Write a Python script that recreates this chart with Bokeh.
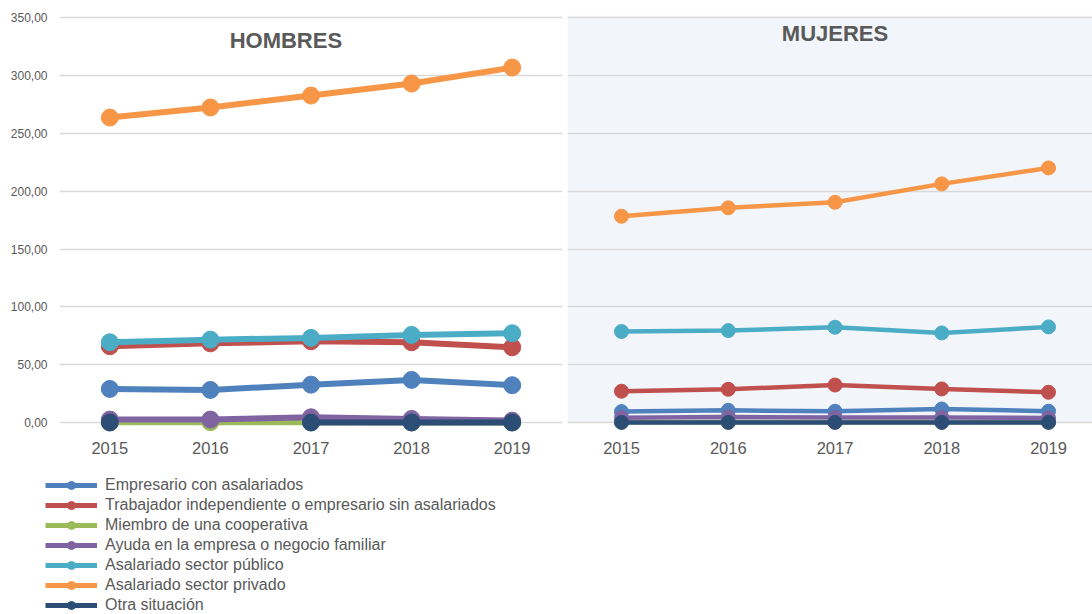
import numpy as np
from bokeh.plotting import figure
from bokeh.models import FixedTicker, Legend, LegendItem, Label, BoxAnnotation, Range1d
from bokeh.layouts import row, column
from bokeh.embed import file_html
from bokeh.resources import INLINE

nan = float("nan")

years = [2015, 2016, 2017, 2018, 2019]
year_labels = ["2015", "2016", "2017", "2018", "2019"]
y_ticks = [0, 50, 100, 150, 200, 250, 300, 350]
y_tick_labels = ["0,00", "50,00", "100,00", "150,00", "200,00", "250,00", "300,00", "350,00"]

series_names = [
    "Empresario con asalariados",
    "Trabajador independiente o empresario sin asalariados",
    "Miembro de una cooperativa",
    "Ayuda en la empresa o negocio familiar",
    "Asalariado sector público",
    "Asalariado sector privado",
    "Otra situación",
]
series_colors = ["#4f81bd", "#c0504d", "#9bbb59", "#8064a2", "#4bacc6", "#f79646", "#2c4d75"]

hombres_empresario = [29.1, 28.2, 32.8, 36.9, 32.3]
hombres_trabajador = [66.0, 68.5, 70.3, 69.4, 65.1]
hombres_cooperativa = [0.3, 0.4, 0.3, 0.2, 0.2]
hombres_ayuda = [2.6, 2.6, 4.6, 3.2, 1.7]
hombres_publico = [69.4, 71.7, 73.2, 75.8, 77.2]
hombres_privado = [263.6, 272.3, 282.6, 293.0, 306.8]
hombres_otra = [0.1, nan, 0.1, 0.1, 0.1]

mujeres_empresario = [9.5, 10.6, 9.8, 11.8, 9.8]
mujeres_trabajador = [27.1, 28.8, 32.5, 29.1, 26.2]
mujeres_cooperativa = [0.3, 0.3, 0.3, 0.3, 0.3]
mujeres_ayuda = [4.3, 4.8, 4.5, 4.5, 4.0]
mujeres_publico = [78.7, 79.5, 82.4, 77.5, 82.7]
mujeres_privado = [178.3, 185.6, 190.4, 206.3, 220.1]
mujeres_otra = [0.2, 0.2, 0.2, 0.2, 0.2]

hombres = [hombres_empresario, hombres_trabajador, hombres_cooperativa, hombres_ayuda,
           hombres_publico, hombres_privado, hombres_otra]
mujeres = [mujeres_empresario, mujeres_trabajador, mujeres_cooperativa, mujeres_ayuda,
           mujeres_publico, mujeres_privado, mujeres_otra]

FONT = "Liberation Sans"
TXT = "#595959"
GRID = "#d9d9d9"


def style(p, show_y):
    p.outline_line_color = None
    p.xgrid.visible = False
    p.ygrid.ticker = FixedTicker(ticks=y_ticks)
    p.ygrid.grid_line_color = GRID
    p.ygrid.grid_line_width = 1.5
    p.xaxis.ticker = FixedTicker(ticks=years)
    p.xaxis.major_label_overrides = {y: l for y, l in zip(years, year_labels)}
    p.xaxis.major_label_text_font = FONT
    p.xaxis.major_label_text_font_size = "16.5px"
    p.xaxis.major_label_text_color = TXT
    p.xaxis.major_label_standoff = 5
    for ax in [p.xaxis, p.yaxis]:
        ax.axis_line_color = None
        ax.major_tick_line_color = None
        ax.minor_tick_line_color = None
        ax.major_tick_out = 0
        ax.major_tick_in = 0
        ax.minor_tick_out = 0
        ax.minor_tick_in = 0
    p.yaxis.ticker = FixedTicker(ticks=y_ticks)
    p.yaxis.major_label_overrides = {t: l for t, l in zip(y_ticks, y_tick_labels)}
    p.yaxis.major_label_text_font = FONT
    p.yaxis.major_label_text_font_size = "12px"
    p.yaxis.major_label_text_color = TXT
    p.yaxis.major_label_standoff = 12
    p.yaxis.visible = show_y


TOP = 15
FRAME_H = 421
CHART_H = 466

p1 = figure(title=None, width=567, height=CHART_H,
            x_range=Range1d(2014.5, 2019.5), y_range=Range1d(-12, 351.8),
            min_border_left=59, min_border_right=5, min_border_top=TOP,
            min_border_bottom=CHART_H - TOP - FRAME_H,
            output_backend="svg", toolbar_location=None)
style(p1, True)

p2 = figure(title=None, width=525, height=CHART_H,
            x_range=Range1d(2014.494, 2019.412), y_range=Range1d(-12, 351.8),
            min_border_left=0, min_border_right=0, min_border_top=TOP,
            min_border_bottom=CHART_H - TOP - FRAME_H,
            output_backend="svg", toolbar_location=None)
style(p2, False)
p2.add_layout(BoxAnnotation(bottom=0, fill_color="#f2f5fa", fill_alpha=1.0,
                            line_color=None, level="image"))

for name, color, vals in zip(series_names, series_colors, hombres):
    arr = np.array(vals, dtype=float)
    p1.line(years, arr, line_color=color, line_width=6)
    p1.scatter(years, arr, size=17, fill_color=color, line_color=color)

for name, color, vals in zip(series_names, series_colors, mujeres):
    arr = np.array(vals, dtype=float)
    p2.line(years, arr, line_color=color, line_width=4.5)
    p2.scatter(years, arr, size=14, fill_color=color, line_color=color)

p1.add_layout(Label(x=2016.75, y=330, text="HOMBRES", text_align="center",
                    text_baseline="middle", text_font=FONT, text_font_size="22px",
                    text_font_style="bold", text_color=TXT))
p2.add_layout(Label(x=2017.0, y=336, text="MUJERES", text_align="center",
                    text_baseline="middle", text_font=FONT, text_font_size="22px",
                    text_font_style="bold", text_color=TXT))

# legend panel below the charts (its own renderers are hidden; only the legend shows)
LEG_H = 614 - CHART_H
p3 = figure(title=None, width=567, height=LEG_H, x_range=Range1d(0, 1), y_range=Range1d(0, 1),
            x_axis_location=None, y_axis_location=None,
            min_border_left=0, min_border_right=0, min_border_top=0, min_border_bottom=0,
            output_backend="svg", toolbar_location=None)
p3.outline_line_color = None
p3.xgrid.visible = False
p3.ygrid.visible = False

items = []
for name, color, vals in zip(series_names, series_colors, hombres):
    arr = np.array(vals, dtype=float)
    rl = p3.line(years, arr, line_color=color, line_width=5, visible=False)
    rs = p3.scatter(years, arr, size=11, fill_color=color, line_color=color, visible=False)
    items.append(LegendItem(label=name, renderers=[rl, rs], index=0))

legend = Legend(items=items, location=(45, -1), glyph_width=52, glyph_height=20,
                label_height=20, spacing=0, label_standoff=8, padding=0, margin=0,
                border_line_color=None, background_fill_alpha=0,
                inactive_fill_alpha=0,
                label_text_font=FONT, label_text_font_size="16px",
                label_text_color=TXT)
p3.add_layout(legend)

layout = column(row(p1, p2), p3)
open("out.html", "w").write(file_html(layout, INLINE))
